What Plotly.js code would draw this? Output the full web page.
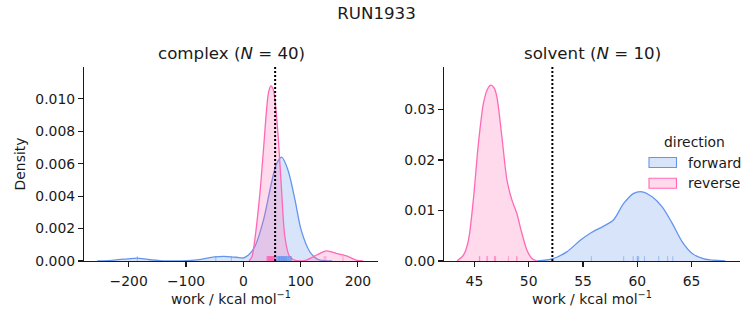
<!DOCTYPE html>
<html>
<head>
<meta charset="utf-8">
<script src="https://cdn.plot.ly/plotly-3.0.1.min.js"></script>
<style>html,body{margin:0;padding:0;background:#fff;}#chart{width:753px;height:325px;}</style>
</head>
<body>
<div id="chart"></div>
<script>
// ---- data ----
const suptitle = 'RUN1933';
const panelTitles = ['complex (<i>N</i> = 40)', 'solvent (<i>N</i> = 10)'];
const legendTitle = 'direction';
const directions = ['forward', 'reverse'];

// complex: KDE curves (work, density)
const complexFwdX = [-255, -225, -202, -185, -167, -145, -120, -97, -74, -51, -34, -12, 0, 9, 20, 35, 49, 58, 67, 78, 90, 101, 116, 130, 142, 155];
const complexFwdY = [0, 0.00006, 0.00013, 0.00018, 0.0001, 0.00002, 0.0, 0.00002, 0.0001, 0.00025, 0.00029, 0.00023, 0.00019, 0.00037, 0.00088, 0.0025, 0.0048, 0.0060, 0.0064, 0.0056, 0.0038, 0.0019, 0.00057, 0.0001, 0.00002, 0];
const complexRevX = [10, 15, 20, 29, 35, 41, 44, 48, 52, 55, 61, 67, 72.5, 81, 93, 110, 128, 145, 162, 180, 197, 209];
const complexRevY = [0, 0.00026, 0.0013, 0.0042, 0.0068, 0.0095, 0.0104, 0.0108, 0.0106, 0.0100, 0.0076, 0.0042, 0.0015, 0.00026, 0.00003, 0.00006, 0.00037, 0.00062, 0.00047, 0.00031, 0.00006, 0];
// complex: rug samples
const complexFwdWork = [-185, -48, -21, 57, 58.5, 59, 60.5, 61, 62.5, 63, 63.5, 64, 65.5, 66, 66.5, 67, 68.5, 69, 69.5, 70, 71.5, 72, 73, 73.5, 74, 75.5, 76, 77, 78.5, 79, 80, 81.5, 82, 83, 84, 61.5, 64.5, 67.5, 70.5, 75];
const complexRevWork = [41, 42, 42.5, 43, 44, 44.5, 45, 45.5, 46, 46.5, 47, 47.5, 48, 48.5, 49, 49.5, 50, 50.5, 51, 51.5, 52, 52.5, 53, 53.5, 54, 54.5, 55, 43.5, 45.2, 46.8, 47.3, 48.2, 49.7, 50.2, 51.3, 52.7, 53.8, 141, 144, 174];
const complexMarker = 55.5;

// solvent: KDE curves
const solventFwdX = [50.8, 52.17, 53.5, 54.75, 55.67, 56.9, 57.8, 58.75, 59.67, 60.44, 61.37, 62.29, 63.21, 64.14, 65.06, 66.13, 68.1];
const solventFwdY = [0, 0.0004, 0.0018, 0.0041, 0.0055, 0.0069, 0.0081, 0.0114, 0.0134, 0.0137, 0.0127, 0.0107, 0.0075, 0.0038, 0.0015, 0.0004, 0];
const solventRevX = [43.4, 44.0, 44.45, 44.9, 45.37, 45.83, 46.2, 46.51, 46.8, 47.07, 47.53, 48.0, 48.45, 48.91, 49.37, 49.83, 50.3, 50.8];
const solventRevY = [0, 0.0012, 0.0041, 0.0121, 0.0233, 0.0312, 0.0340, 0.0348, 0.0343, 0.0325, 0.0246, 0.0160, 0.0121, 0.0094, 0.0055, 0.0022, 0.0005, 0];
// solvent: rug samples
const solventFwdWork = [55.77, 58.75, 59.62, 60.04, 60.13, 60.66, 61.98, 62.8, 63.27, 60.0];
const solventRevWork = [45.46, 46.14, 46.84, 46.95, 48.13, 48.91, 45.5, 46.2, 46.9, 48.9];
const solventMarker = 52.18;

// ---- styling ----
const BLUE = '#6495ED', PINK = '#FF69B4';
const BLUE_FILL = 'rgba(100,149,237,0.25)', PINK_FILL = 'rgba(255,105,180,0.25)';
const BLUE_RUG = 'rgba(100,149,237,0.55)', PINK_RUG = 'rgba(255,105,180,0.55)';
const FONT = 'DejaVu Sans';
const TXT = '#1a1a1a';
const W = 753, H = 325;
const ranges = {
  x1: [-278, 235], y1: [0, 0.01196],
  x2: [42.2, 69.46], y2: [0, 0.0384]
};

function rug(values, h, color, xa, ya) {
  const x = [], y = [];
  values.forEach(v => { x.push(v, v, null); y.push(0, h, null); });
  return {x, y, xaxis: xa, yaxis: ya, type: 'scatter', mode: 'lines',
          line: {color, width: 1}, hoverinfo: 'skip', showlegend: false};
}
function kde(x, y, color, fill, xa, ya) {
  return {x, y, xaxis: xa, yaxis: ya, type: 'scatter', mode: 'lines', fill: 'tozeroy',
          fillcolor: fill, line: {color, width: 1.3, shape: 'spline', smoothing: 0.8},
          showlegend: false};
}
function vline(v, ymax, xa, ya) {
  return {x: [v, v], y: [0, ymax], xaxis: xa, yaxis: ya, type: 'scatter', mode: 'lines',
          line: {color: '#000', width: 2, dash: '2px,2px'}, hoverinfo: 'skip', showlegend: false};
}

const rh1 = ranges.y1[1] * 0.025, rh2 = ranges.y2[1] * 0.025;
const data = [
  kde(complexFwdX, complexFwdY, BLUE, BLUE_FILL, 'x', 'y'),
  kde(complexRevX, complexRevY, PINK, PINK_FILL, 'x', 'y'),
  rug(complexFwdWork, rh1, BLUE_RUG, 'x', 'y'),
  rug(complexRevWork, rh1, PINK_RUG, 'x', 'y'),
  vline(complexMarker, ranges.y1[1], 'x', 'y'),
  kde(solventFwdX, solventFwdY, BLUE, BLUE_FILL, 'x2', 'y2'),
  kde(solventRevX, solventRevY, PINK, PINK_FILL, 'x2', 'y2'),
  rug(solventFwdWork, rh2, BLUE_RUG, 'x2', 'y2'),
  rug(solventRevWork, rh2, PINK_RUG, 'x2', 'y2'),
  vline(solventMarker, ranges.y2[1], 'x2', 'y2')
];

const tickFont = {family: FONT, size: 13.9, color: TXT};
const baseAxis = {showline: true, linecolor: TXT, linewidth: 1.1, ticks: 'outside', ticklen: 5,
  tickwidth: 1.1, tickcolor: TXT, showgrid: false, zeroline: false, tickfont: tickFont,
  mirror: false, fixedrange: true};
const xlabel = {text: 'work / kcal mol<sup>−1</sup>', font: {family: FONT, size: 13.9, color: TXT}, standoff: 6};
const yDom = [64/H, 258/H];

// manual legend (matplotlib-style patches); text centres sit right of the patches
const legendColors = [[BLUE, BLUE_FILL], [PINK, PINK_FILL]];
const legendRowsY = [162.5, 183.3];
const legendTextCx = [714.5, 714];
const shapes = directions.map((d, i) => ({
  type: 'rect', xref: 'paper', yref: 'paper',
  x0: 649/W, x1: 676.5/W, y0: 1 - (legendRowsY[i] + 5)/H, y1: 1 - (legendRowsY[i] - 5)/H,
  fillcolor: legendColors[i][1], line: {color: legendColors[i][0], width: 1.1}
}));
const legendAnn = directions.map((d, i) => ({
  text: d, xref: 'paper', yref: 'paper', x: legendTextCx[i]/W, y: 1 - legendRowsY[i]/H,
  xanchor: 'center', yanchor: 'middle', showarrow: false,
  font: {family: FONT, size: 13.9, color: TXT}
}));

const layout = {
  width: W, height: H,
  margin: {l: 0, r: 0, t: 0, b: 0},
  paper_bgcolor: '#fff', plot_bgcolor: '#fff',
  font: {family: FONT, color: TXT},
  showlegend: false,
  title: {text: suptitle, x: 0.5, xanchor: 'center', y: 1 - 13/H, yanchor: 'middle', yref: 'container',
          font: {family: FONT, size: 16.67, color: TXT}},
  xaxis: Object.assign({}, baseAxis, {domain: [84/W, 378/W], range: ranges.x1, anchor: 'y',
          tickvals: [-200, -100, 0, 100, 200], ticklabelstandoff: 2, title: xlabel}),
  yaxis: Object.assign({}, baseAxis, {domain: yDom, range: ranges.y1, anchor: 'x',
          tickvals: [0, 0.002, 0.004, 0.006, 0.008, 0.010], tickformat: '.3f',
          title: {text: 'Density', font: {family: FONT, size: 13.9, color: TXT}, standoff: 6}}),
  xaxis2: Object.assign({}, baseAxis, {domain: [444/W, 740/W], range: ranges.x2, anchor: 'y2',
          tickvals: [45, 50, 55, 60, 65], ticklabelstandoff: 2, title: xlabel}),
  yaxis2: Object.assign({}, baseAxis, {domain: yDom, range: ranges.y2, anchor: 'x2',
          tickvals: [0, 0.01, 0.02, 0.03], tickformat: '.2f'}),
  shapes: shapes,
  annotations: [
    {text: panelTitles[0], xref: 'paper', yref: 'paper', x: 231/W, y: 1 - 54/H, xanchor: 'center', yanchor: 'middle',
     showarrow: false, font: {family: FONT, size: 16.67, color: TXT}},
    {text: panelTitles[1], xref: 'paper', yref: 'paper', x: 592/W, y: 1 - 54/H, xanchor: 'center', yanchor: 'middle',
     showarrow: false, font: {family: FONT, size: 16.67, color: TXT}},
    {text: legendTitle, xref: 'paper', yref: 'paper', x: 694/W, y: 1 - 141.5/H, xanchor: 'center', yanchor: 'middle',
     showarrow: false, font: {family: FONT, size: 13.9, color: TXT}}
  ].concat(legendAnn)
};

Plotly.newPlot('chart', data, layout, {displayModeBar: false, staticPlot: true});
</script>
</body>
</html>
